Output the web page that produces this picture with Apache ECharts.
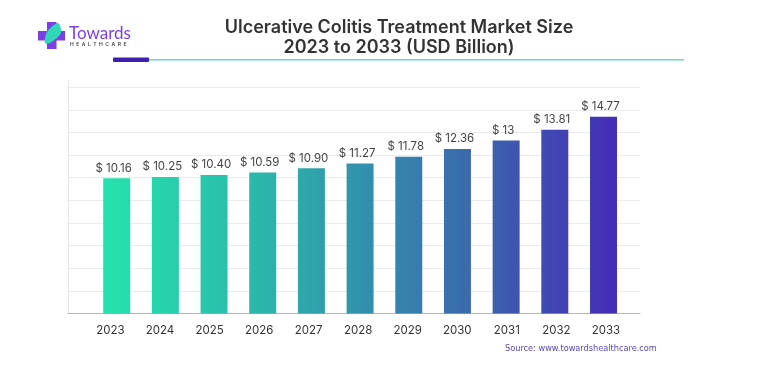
<!DOCTYPE html>
<html>
<head>
<meta charset="utf-8">
<title>Ulcerative Colitis Treatment Market Size</title>
<style>
html, body { margin: 0; padding: 0; background: #fff; }
#chart { width: 776px; height: 382px; }
</style>
</head>
<body>
<div id="chart"></div>
<script src="https://cdn.jsdelivr.net/npm/echarts@6/dist/echarts.min.js"></script>
<script>
var years = [2023, 2024, 2025, 2026, 2027, 2028, 2029, 2030, 2031, 2032, 2033];
var yearLabels = ['2023', '2024', '2025', '2026', '2027', '2028', '2029', '2030', '2031', '2032', '2033'];
var marketSize = [10.16, 10.25, 10.40, 10.59, 10.90, 11.27, 11.78, 12.36, 13, 13.81, 14.77];
var sizeLabels = ['$ 10.16', '$ 10.25', '$ 10.40', '$ 10.59', '$ 10.90', '$ 11.27', '$ 11.78', '$ 12.36', '$ 13', '$ 13.81', '$ 14.77'];

var chart = echarts.init(document.getElementById('chart'));

// one gradient across all the bars, in page pixels
var barColor = {
    type: 'linear', x: 103, y: 0, x2: 617, y2: 0, global: true,
    colorStops: [
        { offset: 0, color: '#25e3ac' },
        { offset: 0.3, color: '#2bb8ab' },
        { offset: 0.7, color: '#3a6cad' },
        { offset: 1, color: '#452cb8' }
    ]
};

var option = {
    animation: false,
    backgroundColor: '#fff',
    title: {
        text: 'Ulcerative Colitis Treatment Market Size\n2023 to 2033 (USD Billion)',
        left: 394,
        top: 13,
        textAlign: 'center',
        textStyle: {
            fontFamily: 'Inter',
            fontSize: 18,
            fontWeight: 600,
            color: '#333333',
            lineHeight: 20
        }
    },
    // second grid only carries the year labels, they sit a bit apart from the bars in the picture
    grid: [
        { left: 68, right: 136, top: 80.5, bottom: 68.5 },
        { left: 85.7, right: 145.3, top: 80.5, bottom: 68.5 }
    ],
    xAxis: [{
        type: 'value',
        gridIndex: 0,
        min: 2022,
        max: 2033.75,
        interval: 1,
        splitLine: { show: false },
        axisLine: { show: true, lineStyle: { color: '#b5b5b5', width: 1 } },
        axisTick: { show: false },
        axisLabel: { show: false }
    }, {
        type: 'category',
        gridIndex: 1,
        data: yearLabels,
        axisLine: { show: false },
        axisTick: { show: false },
        axisLabel: {
            margin: 11,
            fontFamily: 'Inter',
            fontSize: 11.5,
            color: '#333333'
        }
    }],
    yAxis: [{
        type: 'value',
        gridIndex: 0,
        min: 0,
        max: 17.5,
        interval: 1.7,
        axisLabel: { show: false },
        axisTick: { show: false },
        axisLine: { show: true, lineStyle: { color: '#e4e4e4', width: 1 } },
        splitLine: { show: true, showMinLine: false, showMaxLine: false, lineStyle: { color: '#ebebeb', width: 1 } }
    }, {
        type: 'value',
        gridIndex: 1,
        show: false
    }],
    series: [{
        type: 'bar',
        xAxisIndex: 0,
        yAxisIndex: 0,
        barWidth: 27,
        data: years.map(function (y, i) { return [y, marketSize[i]]; }),
        itemStyle: { color: barColor },
        label: {
            show: true,
            position: 'top',
            distance: 4,
            offset: [-3, 0],
            fontFamily: 'Inter',
            fontSize: 11.5,
            color: '#444444',
            formatter: function (p) { return sizeLabels[p.dataIndex]; }
        }
    }],
    graphic: [
        // header rule
        { type: 'rect', shape: { x: 149, y: 59, width: 535, height: 1.5 }, style: { fill: '#5fe0c0' } },
        { type: 'rect', shape: { x: 113, y: 57.5, width: 36, height: 4.5, r: 1 }, style: { fill: '#3f1fb0' } },
        // logo
        { type: 'rect', shape: { x: 47, y: 22, width: 9.5, height: 27 }, style: { fill: '#7b3fe4' } },
        { type: 'rect', shape: { x: 38, y: 31, width: 27, height: 9.5 }, style: { fill: '#7b3fe4' } },
        { type: 'polygon', shape: { points: [[58, 23], [61, 33], [50, 43], [45, 43], [47, 32]], smooth: 0.3 }, style: { fill: '#2fd9b8' } },
        { type: 'text', style: { x: 69, y: 25, text: 'Towards', fontFamily: 'Lato', fontSize: 17, fill: '#7b3fe4' } },
        { type: 'text', style: { x: 70, y: 42, text: 'H  E  A  L  T  H  C  A  R  E', fontFamily: 'Inter', fontSize: 5, fontWeight: 600, fill: '#444444' } },
        // source
        { type: 'text', style: { x: 505, y: 344.5, text: 'Source: www.towardshealthcare.com', fontFamily: 'DejaVu Sans', fontSize: 8.2, fill: '#5a48b8' } }
    ]
};

chart.setOption(option);
</script>
</body>
</html>
